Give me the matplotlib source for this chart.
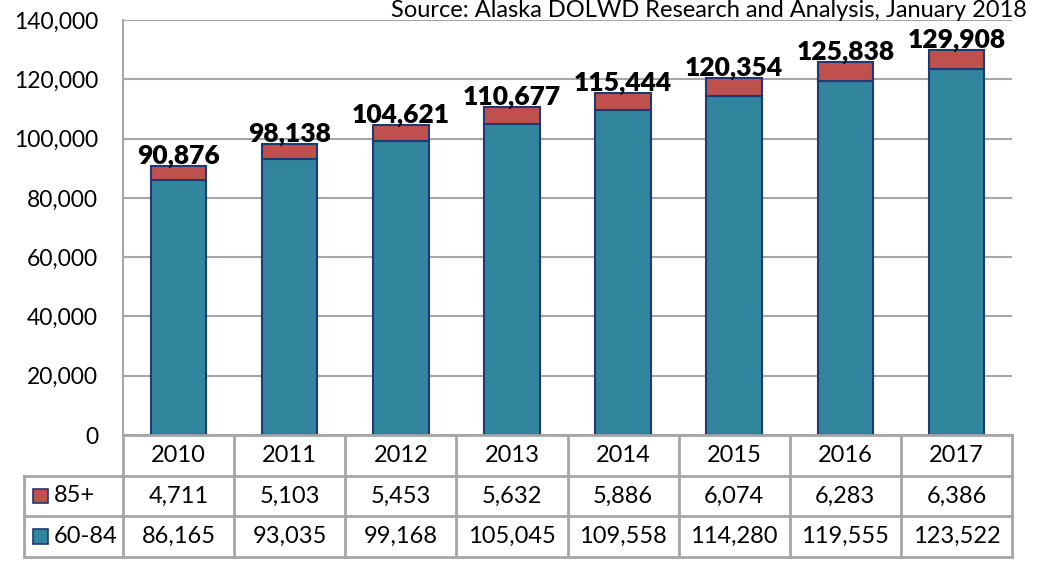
import matplotlib.pyplot as plt
from matplotlib.patches import Rectangle
from matplotlib.ticker import FuncFormatter

plt.rcParams['font.family'] = ['Lato', 'DejaVu Sans']

years = ['2010', '2011', '2012', '2013', '2014', '2015', '2016', '2017']
age_60_84 = [86165, 93035, 99168, 105045, 109558, 114280, 119555, 123522]
age_85 = [4711, 5103, 5453, 5632, 5886, 6074, 6283, 6386]
series_names = ['85+', '60-84']
source = 'Source: Alaska DOLWD Research and Analysis, January 2018'

teal = '#31859C'
red = '#C0504D'
edge = '#1F3A73'
grid = '#A6A6A6'

W, H = 1038, 580
fig = plt.figure(figsize=(W / 100, H / 100), dpi=100)

# main chart area (pixel box -> figure fraction)
ax = fig.add_axes([123 / W, (H - 435) / H, 889 / W, 415 / H])
x = list(range(len(years)))
ax.bar(x, age_60_84, width=0.5, color=teal, edgecolor=edge, linewidth=1.5, zorder=3)
ax.bar(x, age_85, bottom=age_60_84, width=0.5, color=red, edgecolor=edge, linewidth=1.5, zorder=3)

totals = [a + b for a, b in zip(age_60_84, age_85)]
for i, t in enumerate(totals):
    ax.annotate(f'{t:,}', (i, t), xytext=(0, 1.5), textcoords='offset points',
                ha='center', va='baseline', fontsize=19, fontweight='heavy', zorder=4)

ax.set_xlim(-0.5, len(years) - 0.5)
ax.set_ylim(0, 140000)
ax.set_yticks(range(0, 140001, 20000))
ax.yaxis.set_major_formatter(FuncFormatter(lambda v, p: f'{int(v):,}'))
ax.set_xticks([])
ax.tick_params(axis='y', length=0, pad=18, labelsize=16.5)
ax.grid(axis='y', color=grid, linewidth=1.5, zorder=0)
for s in ['top', 'right', 'bottom']:
    ax.spines[s].set_visible(False)
ax.spines['left'].set_color(grid)
ax.spines['left'].set_linewidth(1.5)

fig.text(1027 / W, 1 - 17 / H, source, ha='right', va='baseline', fontsize=17)

# data table under the chart
lab_w = 99 / 111
tax = fig.add_axes([24 / W, (H - 557) / H, 988 / W, 122 / H])
tax.set_xlim(-lab_w, len(years))
tax.set_ylim(3, 0)
tax.axis('off')
lk = dict(color=grid, linewidth=2, clip_on=False)
# horizontal lines
tax.plot([0, len(years)], [0, 0], **lk)
for r in [1, 2, 3]:
    tax.plot([-lab_w, len(years)], [r, r], **lk)
# vertical lines
tax.plot([-lab_w, -lab_w], [1, 3], **lk)
for c in range(len(years) + 1):
    tax.plot([c, c], [0, 3], **lk)

for i, y in enumerate(years):
    tax.text(i + 0.5, 0.5, y, ha='center', va='center', fontsize=17)
rows = [age_85, age_60_84]
colors = [red, teal]
for r, (name, vals, col) in enumerate(zip(series_names, rows, colors)):
    yc = r + 1.5
    tax.add_patch(Rectangle((-lab_w + 0.08, yc - 0.18), 0.135, 0.36,
                            facecolor=col, edgecolor=edge, linewidth=1.2, clip_on=False))
    tax.text(-lab_w + 0.27, yc, name, ha='left', va='center', fontsize=17)
    for i, v in enumerate(vals):
        tax.text(i + 0.5, yc, f'{v:,}', ha='center', va='center', fontsize=17)

fig.savefig('out.png', dpi=100)
